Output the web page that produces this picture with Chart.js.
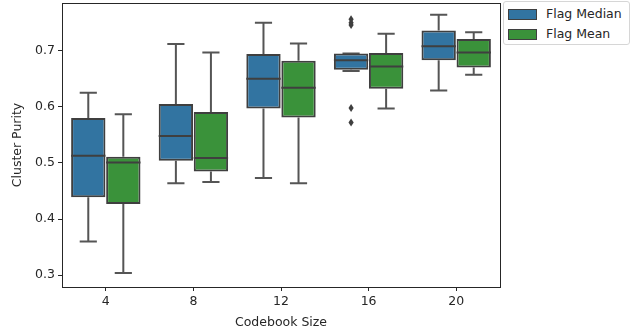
<!DOCTYPE html>
<html>
<head>
<meta charset="utf-8">
<script src="https://cdn.jsdelivr.net/npm/chart.js@4"></script>
<style>
  body { margin: 0; background: #fff; }
  #wrap { position: relative; width: 632px; height: 330px; }
  #legend {
    position: absolute; left: 503px; top: 1px; width: 125px; height: 42px;
    border: 1px solid #d6d6d6; border-radius: 3px; background: #fff;
    font: 12.5px "DejaVu Sans", sans-serif; color: #262626;
  }
  .row { position: absolute; left: 4px; height: 12px; }
  .sw { position: absolute; left: 0; top: 0; width: 27px; height: 9px; border: 1px solid #3f3f3f; }
  .lab { position: absolute; left: 38px; top: -3px; white-space: nowrap; }
</style>
</head>
<body>
<div id="wrap">
  <canvas id="boxChart" width="632" height="330"></canvas>
  <div id="legend"></div>
</div>
<script>
const sizes = ["4", "8", "12", "16", "20"];
const yTicks = [0.3, 0.4, 0.5, 0.6, 0.7];

// [whisker low, q1, median, q3, whisker high] per codebook size
const medianBoxes = [
  [0.360, 0.439, 0.513, 0.580, 0.625],
  [0.464, 0.504, 0.548, 0.605, 0.712],
  [0.473, 0.597, 0.650, 0.694, 0.750],
  [0.664, 0.666, 0.683, 0.695, 0.695],
  [0.629, 0.683, 0.708, 0.736, 0.764]
];
const meanBoxes = [
  [0.304, 0.427, 0.501, 0.511, 0.587],
  [0.466, 0.485, 0.509, 0.591, 0.697],
  [0.464, 0.581, 0.634, 0.682, 0.713],
  [0.597, 0.632, 0.672, 0.696, 0.730],
  [0.657, 0.670, 0.697, 0.721, 0.733]
];
const medianOutliers = [[], [], [], [0.756, 0.750, 0.746, 0.598, 0.572], []];
const meanOutliers = [[], [], [], [], []];

const blue = "#3274a1";
const green = "#3a923a";
const edge = "#3f3f3f";

const series = [
  { label: "Flag Median", color: blue, boxes: medianBoxes, outliers: medianOutliers },
  { label: "Flag Mean", color: green, boxes: meanBoxes, outliers: meanOutliers }
];

// whiskers behind the boxes, medians + fliers on top
const boxParts = {
  id: "boxParts",
  beforeDatasetsDraw(chart) {
    const c = chart.ctx, y = chart.scales.y;
    c.save();
    c.strokeStyle = "#555";
    c.lineWidth = 2;
    series.forEach((s, i) => {
      chart.getDatasetMeta(i).data.forEach((el, j) => {
        const [lo, q1, , q3, hi] = s.boxes[j];
        const cap = el.width / 4;
        c.beginPath();
        c.moveTo(el.x, y.getPixelForValue(q3));
        c.lineTo(el.x, y.getPixelForValue(hi));
        c.moveTo(el.x - cap, y.getPixelForValue(hi));
        c.lineTo(el.x + cap, y.getPixelForValue(hi));
        c.moveTo(el.x, y.getPixelForValue(q1));
        c.lineTo(el.x, y.getPixelForValue(lo));
        c.moveTo(el.x - cap, y.getPixelForValue(lo));
        c.lineTo(el.x + cap, y.getPixelForValue(lo));
        c.stroke();
      });
    });
    c.restore();
  },
  afterDatasetsDraw(chart) {
    const c = chart.ctx, y = chart.scales.y, a = chart.chartArea;
    c.save();
    c.strokeStyle = edge;
    c.fillStyle = edge;
    c.lineWidth = 2;
    series.forEach((s, i) => {
      chart.getDatasetMeta(i).data.forEach((el, j) => {
        const py = y.getPixelForValue(s.boxes[j][2]);
        c.beginPath();
        c.moveTo(el.x - el.width / 2, py);
        c.lineTo(el.x + el.width / 2, py);
        c.stroke();
        s.outliers[j].forEach(v => {
          const oy = y.getPixelForValue(v);
          c.beginPath();
          c.moveTo(el.x, oy - 4);
          c.lineTo(el.x + 2.6, oy);
          c.lineTo(el.x, oy + 4);
          c.lineTo(el.x - 2.6, oy);
          c.closePath();
          c.fill();
        });
      });
    });
    // full frame like matplotlib spines
    c.strokeStyle = "#262626";
    c.lineWidth = 1;
    c.strokeRect(Math.round(a.left) + 0.5, Math.round(a.top) + 0.5,
      Math.round(a.right - a.left), Math.round(a.bottom - a.top));
    c.restore();
  }
};

const tickFont = { family: "DejaVu Sans", size: 12.5 };

const boxChart = new Chart(document.getElementById("boxChart"), {
  type: "bar",
  data: {
    labels: sizes,
    datasets: series.map(s => ({
      label: s.label,
      data: s.boxes.map(b => [b[1], b[3]]),
      backgroundColor: s.color,
      borderColor: edge,
      borderWidth: 2,
      borderSkipped: false,
      categoryPercentage: 0.8,
      barPercentage: 0.98
    }))
  },
  options: {
    responsive: false,
    animation: false,
    layout: { padding: { top: 3, right: 132, left: 0, bottom: 0 } },
    plugins: { legend: { display: false }, tooltip: { enabled: false } },
    scales: {
      x: {
        grid: { display: true, drawOnChartArea: false, offset: false, tickLength: 4, color: "#262626" },
        border: { display: false },
        ticks: { color: "#262626", font: tickFont, padding: 3 },
        title: { display: true, text: "Codebook Size", color: "#262626", font: tickFont, padding: { top: 2, bottom: 0 } },
        afterFit(scale) { scale.height = 43; scale.paddingLeft = 0; scale.paddingRight = 0; }
      },
      y: {
        min: 0.279,
        max: 0.785,
        afterBuildTicks(scale) { scale.ticks = yTicks.map(v => ({ value: v })); },
        grid: { display: true, drawOnChartArea: false, tickLength: 4, color: "#262626" },
        border: { display: false },
        ticks: { color: "#262626", font: tickFont, padding: 3, callback: v => v.toFixed(1) },
        title: { display: true, text: "Cluster Purity", color: "#262626", font: tickFont, padding: { top: 10, bottom: 4 } },
        afterFit(scale) { scale.width = 62; scale.paddingTop = 0; scale.paddingBottom = 0; }
      }
    }
  },
  plugins: [boxParts]
});

// legend outside the axes, top right
const legend = document.getElementById("legend");
series.forEach((s, i) => {
  const row = document.createElement("div");
  row.className = "row";
  row.style.top = (7 + i * 19.5) + "px";
  row.innerHTML = `<div class="sw" style="background:${s.color}"></div><span class="lab">${s.label}</span>`;
  legend.appendChild(row);
});
</script>
</body>
</html>
